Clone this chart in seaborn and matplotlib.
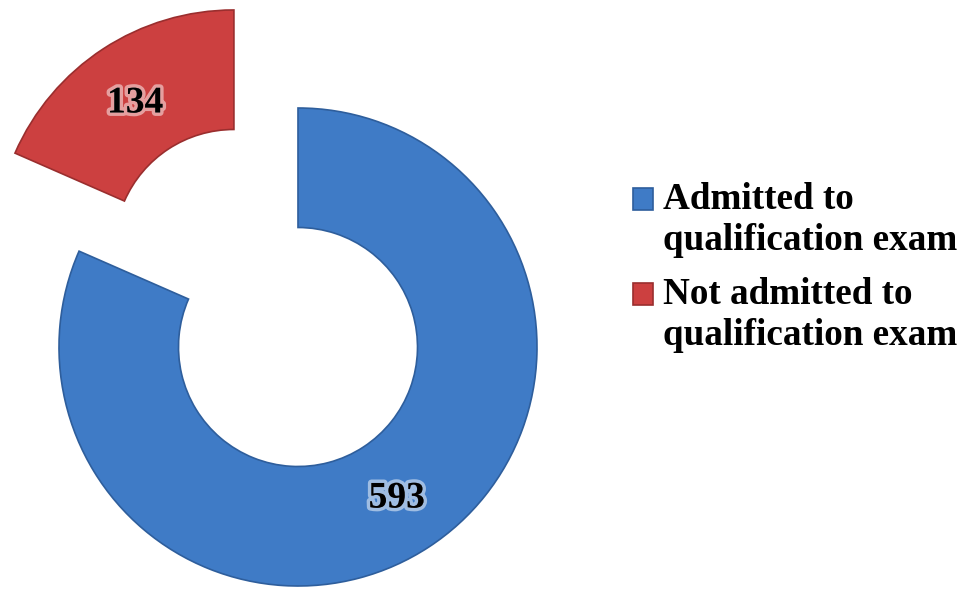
import matplotlib.pyplot as plt
import seaborn as sns
from matplotlib import patheffects

# Data
categories = ["Admitted to\nqualification exam", "Not admitted to\nqualification exam"]
counts = [593, 134]
slice_colors = ["#3F7BC6", "#CC4040"]
edge_colors = ["#2E5E9C", "#9A2E2E"]

sns.set_style('white')
plt.rcParams['font.family'] = ['Liberation Serif', 'DejaVu Serif']
plt.rcParams['text.color'] = 'black'

W, H = 971, 591
R = 239.0  # outer radius in pixels, axes units are radii

fig = plt.figure(figsize=(W / 100, H / 100), dpi=100)
ax = fig.add_axes([0, 0, 1, 1])

total = sum(counts)
wedges, texts, autotexts = ax.pie(
    counts,
    colors=sns.color_palette(slice_colors),
    startangle=90,
    counterclock=False,
    explode=[0, 0.49],
    radius=1,
    center=(298 / R, (H - 347) / R),
    wedgeprops=dict(width=0.5, linewidth=1.2),
    autopct=lambda p: f"{p * total / 100:.0f}",
    pctdistance=0.755,
    textprops=dict(fontsize=27, fontweight='bold', color='black'),
)
for w, ec in zip(wedges, edge_colors):
    w.set_edgecolor(ec)
for t in autotexts:
    t.set_path_effects([patheffects.withStroke(linewidth=5, foreground=(1, 1, 1, 0.5))])
# small nudge for the red label
autotexts[1].set_y(autotexts[1].get_position()[1] - 5 / R)

ax.set_xlim(0, W / R)
ax.set_ylim(0, H / R)
ax.set_aspect('equal')
ax.axis('off')

leg = ax.legend(
    wedges, categories,
    loc='center left',
    bbox_to_anchor=(633 / W, (H - 267.5) / H),
    bbox_transform=fig.transFigure,
    frameon=False,
    prop=dict(family='Liberation Serif', weight='bold', size=26.7),
    handlelength=0.53, handleheight=0.53, handletextpad=0.27,
    labelspacing=0.5, borderpad=0, borderaxespad=0,
)
for t in leg.get_texts():
    t.set_color('black')
    t.set_linespacing(1.24)
# move the squares up to the first line of each label
for h in leg.legend_handles:
    h.set_y(h.get_y() + 15.6)

fig.savefig('out.png', dpi=100)
